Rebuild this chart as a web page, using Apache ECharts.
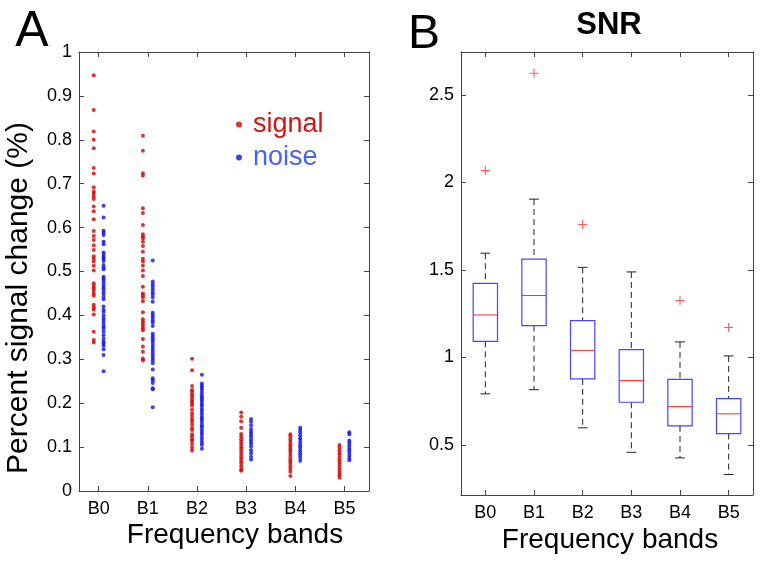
<!DOCTYPE html>
<html><head><meta charset="utf-8">
<script src="https://cdn.jsdelivr.net/npm/echarts@6/dist/echarts.min.js"></script>
<style>html,body{margin:0;padding:0;background:#fff}#c{width:762px;height:564px}</style>
</head><body><div id="c"></div>
<script>
const bands = ['B0','B1','B2','B3','B4','B5'];
const yTicksA = [0,0.1,0.2,0.3,0.4,0.5,0.6,0.7,0.8,0.9,1];
const yTicksB = [0.5,1,1.5,2,2.5];

const sigB0 = [0.947,0.868,0.819,0.800,0.781,0.736,0.723,0.692,0.682,0.677,0.671,0.665,0.648,0.637,0.619,0.592,0.581,0.572,0.560,0.549,0.535,0.529,0.523,0.513,0.502,0.473,0.467,0.462,0.456,0.450,0.445,0.424,0.418,0.413,0.402,0.363,0.344,0.338];
const sigB1 = [0.809,0.775,0.724,0.718,0.644,0.633,0.606,0.585,0.580,0.576,0.568,0.558,0.545,0.529,0.523,0.513,0.502,0.490,0.465,0.450,0.446,0.441,0.432,0.407,0.391,0.386,0.381,0.376,0.371,0.366,0.346,0.329,0.317,0.302,0.297];
const sigB2 = [0.301,0.275,0.239,0.230,0.226,0.220,0.215,0.209,0.204,0.200,0.194,0.185,0.177,0.171,0.164,0.159,0.152,0.144,0.139,0.129,0.124,0.118,0.114,0.107,0.099,0.092];
const sigB3 = [0.179,0.169,0.159,0.144,0.130,0.124,0.118,0.112,0.107,0.101,0.096,0.090,0.084,0.078,0.073,0.067,0.062,0.055,0.049,0.046];
const sigB4 = [0.129,0.124,0.118,0.112,0.106,0.101,0.095,0.090,0.084,0.078,0.072,0.067,0.062,0.056,0.050,0.044,0.034];
const sigB5 = [0.105,0.099,0.093,0.087,0.082,0.076,0.070,0.065,0.059,0.053,0.047,0.041,0.036,0.030];

const noiB0 = [0.650,0.623,0.593,0.588,0.583,0.568,0.562,0.543,0.538,0.533,0.529,0.524,0.515,0.509,0.505,0.488,0.484,0.479,0.473,0.467,0.462,0.456,0.450,0.443,0.437,0.420,0.413,0.408,0.400,0.393,0.387,0.381,0.375,0.370,0.363,0.355,0.347,0.340,0.336,0.331,0.323,0.310,0.273];
const noiB1 = [0.525,0.477,0.471,0.465,0.459,0.453,0.447,0.441,0.431,0.406,0.401,0.395,0.389,0.384,0.376,0.358,0.353,0.348,0.343,0.337,0.331,0.326,0.320,0.314,0.308,0.303,0.297,0.291,0.277,0.257,0.252,0.246,0.234,0.232,0.191];
const noiB2 = [0.265,0.245,0.240,0.235,0.230,0.224,0.218,0.213,0.209,0.204,0.198,0.194,0.188,0.183,0.177,0.171,0.166,0.162,0.156,0.150,0.145,0.139,0.133,0.128,0.122,0.116,0.110,0.105,0.096];
const noiB3 = [0.164,0.158,0.150,0.141,0.135,0.130,0.124,0.118,0.112,0.107,0.101,0.093,0.086,0.078,0.072];
const noiB4 = [0.144,0.139,0.133,0.127,0.121,0.116,0.110,0.104,0.099,0.093,0.087,0.082,0.076,0.069];
const noiB5 = [0.134,0.129,0.115,0.110,0.104,0.098,0.093,0.087,0.081,0.075,0.070];

// SNR boxplot: [lower whisker, Q1, median, Q3, upper whisker]
const snrB0 = [0.791,1.091,1.242,1.423,1.595];
const snrB1 = [0.815,1.181,1.353,1.561,1.904];
const snrB2 = [0.597,0.877,1.040,1.210,1.514];
const snrB3 = [0.457,0.743,0.867,1.044,1.488];
const snrB4 = [0.425,0.608,0.718,0.874,1.088];
const snrB5 = [0.330,0.564,0.677,0.764,1.008];
const outlierBand = [0,1,2,4,5];
const outlierVal = [2.067,2.624,1.759,1.324,1.170];

const signalSets = [sigB0,sigB1,sigB2,sigB3,sigB4,sigB5];
const noiseSets = [noiB0,noiB1,noiB2,noiB3,noiB4,noiB5];
const snrSets = [snrB0,snrB1,snrB2,snrB3,snrB4,snrB5];

const FONT = 'Liberation Sans';
const bandIdx = [0,1,2,3,4,5];
const sigData = [], noiData = [];
signalSets.forEach((arr,i)=>arr.forEach(v=>sigData.push([i-0.1,v])));
noiseSets.forEach((arr,i)=>arr.forEach(v=>noiData.push([i+0.1,v])));
const boxData = snrSets.map((s,i)=>[i].concat(s));
const outData = outlierBand.map((b,i)=>[b,outlierVal[i]]);

const axisCol = '#444';
function xAx(grid, min, max, pos, labels){
  return {type:'value', gridIndex:grid, min:min, max:max, position:pos,
    axisLine:{onZero:false, lineStyle:{color:axisCol,width:1}},
    axisTick:{show:true, inside:true, length:5, customValues:bandIdx, lineStyle:{color:axisCol}},
    axisLabel:{show:labels, customValues:bandIdx, formatter:v=>bands[Math.round(v)], color:'#000', fontFamily:FONT, fontSize:18, margin:9},
    splitLine:{show:false}};
}
function yAxA(pos, labels){
  return {type:'value', gridIndex:0, min:0, max:1, position:pos,
    axisLine:{onZero:false, lineStyle:{color:axisCol,width:1}},
    axisTick:{show:true, inside:true, length:5, customValues:yTicksA, lineStyle:{color:axisCol}},
    axisLabel:{show:labels, customValues:yTicksA, color:'#000', fontFamily:FONT, fontSize:18, margin:7},
    splitLine:{show:false}};
}
function yAxB(pos, labels){
  return {type:'value', gridIndex:1, min:0.213, max:2.745, position:pos,
    axisLine:{onZero:false, lineStyle:{color:axisCol,width:1}},
    axisTick:{show:true, inside:true, length:5, customValues:yTicksB, lineStyle:{color:axisCol}},
    axisLabel:{show:labels, customValues:yTicksB, color:'#000', fontFamily:FONT, fontSize:18, margin:7},
    splitLine:{show:false}};
}

const plusPath = 'path://M4.4,0h1.2v10h-1.2z M0,4.4h10v1.2h-10z';

const option = {
  animation:false,
  backgroundColor:'#fff',
  grid:[
    {left:79, top:52, width:290, height:439, containLabel:false},
    {left:461, top:52, width:292, height:443, containLabel:false}
  ],
  xAxis:[
    xAx(0,-0.4,5.5,'bottom',true),
    xAx(0,-0.4,5.5,'top',false),
    xAx(1,-0.5,5.5,'bottom',true),
    xAx(1,-0.5,5.5,'top',false)
  ],
  yAxis:[
    yAxA('left',true), yAxA('right',false),
    yAxB('left',true), yAxB('right',false)
  ],
  legend:{
    orient:'vertical', left:231, top:106, itemWidth:6, itemHeight:6, itemGap:6,
    icon:'circle',
    textStyle:{fontFamily:FONT, fontSize:27, padding:[0,0,0,6]},
    data:[
      {name:'signal', textStyle:{color:'#d41414'}},
      {name:'noise', textStyle:{color:'#4862f2'}}
    ]
  },
  graphic:[
    {type:'text', x:32, y:32, style:{text:'A', font:'50px "Liberation Sans"', fill:'#000', textAlign:'center', textVerticalAlign:'middle'}},
    {type:'text', x:424, y:35, style:{text:'B', font:'48px "Liberation Sans"', fill:'#000', textAlign:'center', textVerticalAlign:'middle'}},
    {type:'text', x:609, y:25, style:{text:'SNR', font:'bold 31px "Liberation Sans"', fill:'#000', textAlign:'center', textVerticalAlign:'middle'}},
    {type:'text', x:235, y:535, style:{text:'Frequency bands', font:'28px "Liberation Sans"', fill:'#000', textAlign:'center', textVerticalAlign:'middle'}},
    {type:'text', x:610, y:540, style:{text:'Frequency bands', font:'28px "Liberation Sans"', fill:'#000', textAlign:'center', textVerticalAlign:'middle'}},
    {type:'text', x:19, y:298, rotation:Math.PI/2, style:{text:'Percent signal change (%)', font:'30px "Liberation Sans"', fill:'#000', textAlign:'center', textVerticalAlign:'middle'}}
  ],
  series:[
    {name:'signal', type:'scatter', xAxisIndex:0, yAxisIndex:0, data:sigData, symbol:'circle', symbolSize:4, itemStyle:{color:'#d40000'}},
    {name:'noise', type:'scatter', xAxisIndex:0, yAxisIndex:0, data:noiData, symbol:'circle', symbolSize:4, itemStyle:{color:'#1010e8'}},
    {name:'snr', type:'custom', xAxisIndex:2, yAxisIndex:2, data:boxData,
      renderItem:function(params, api){
        const x = api.value(0);
        const lw = api.value(1), q1 = api.value(2), md = api.value(3), q3 = api.value(4), uw = api.value(5);
        const hw = 0.25, cw = 0.1;
        const pL = api.coord([x-hw, q3]), pR = api.coord([x+hw, q1]);
        const pMdL = api.coord([x-hw, md]), pMdR = api.coord([x+hw, md]);
        const pUw = api.coord([x, uw]), pQ3 = api.coord([x, q3]), pQ1 = api.coord([x, q1]), pLw = api.coord([x, lw]);
        const cUL = api.coord([x-cw, uw]), cUR = api.coord([x+cw, uw]);
        const cLL = api.coord([x-cw, lw]), cLR = api.coord([x+cw, lw]);
        const wStyle = {stroke:'#222', lineWidth:1, lineDash:[6,4], fill:null};
        const cStyle = {stroke:'#222', lineWidth:1, fill:null};
        return {type:'group', children:[
          {type:'line', shape:{x1:pUw[0],y1:pUw[1],x2:pQ3[0],y2:pQ3[1]}, style:wStyle},
          {type:'line', shape:{x1:pQ1[0],y1:pQ1[1],x2:pLw[0],y2:pLw[1]}, style:wStyle},
          {type:'line', shape:{x1:cUL[0],y1:cUL[1],x2:cUR[0],y2:cUR[1]}, style:cStyle},
          {type:'line', shape:{x1:cLL[0],y1:cLL[1],x2:cLR[0],y2:cLR[1]}, style:cStyle},
          {type:'rect', shape:{x:pL[0], y:pL[1], width:pR[0]-pL[0], height:pR[1]-pL[1]}, style:{stroke:'#4646ff', lineWidth:1.2, fill:'rgba(0,0,0,0)'}},
          {type:'line', shape:{x1:pMdL[0],y1:pMdL[1],x2:pMdR[0],y2:pMdR[1]}, style:{stroke:'#ff2a2a', lineWidth:1}}
        ]};
      }
    },
    {name:'outliers', type:'scatter', xAxisIndex:2, yAxisIndex:2, data:outData, symbol:plusPath, symbolSize:9, itemStyle:{color:'#ff3030'}}
  ]
};
const chart = echarts.init(document.getElementById('c'), null, {renderer:'canvas'});
chart.setOption(option);
</script>
</body></html>
